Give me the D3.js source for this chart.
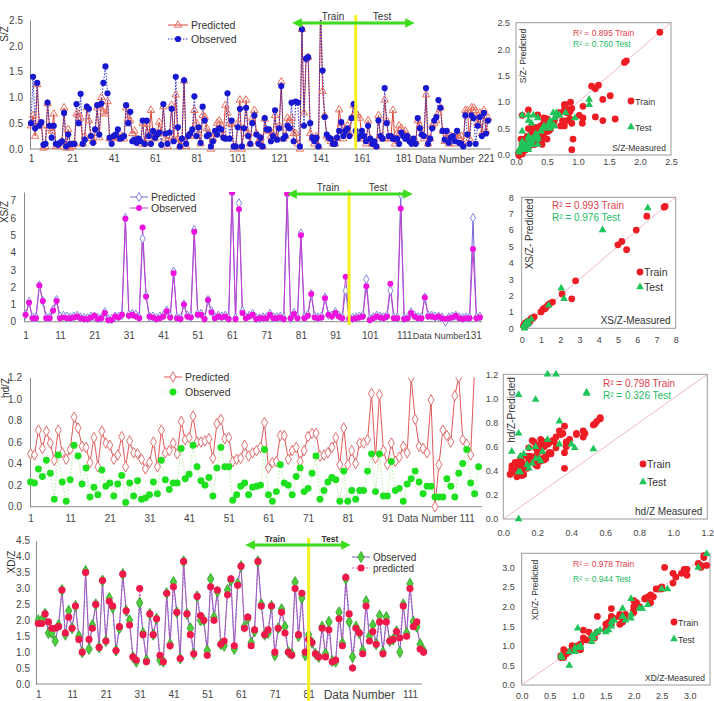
<!DOCTYPE html>
<html>
<head>
<meta charset="utf-8">
<script src="https://cdn.jsdelivr.net/npm/d3@7"></script>
<style>
  body { margin: 0; background: #fff; }
  svg { display: block; font-family: "Liberation Sans", Arial, sans-serif; }
</style>
</head>
<body>
<svg id="fig" width="714" height="701"></svg>
<script>
// ---- S/Z series ----
const sObserved = [0.5,1.4,0.4,1.28,0.45,0.52,0.08,0.1,0.9,0.45, 0.22,0.45,0.1,0.08,0.12,0.15,0.7,0.05,0.28,0.1,
  0.1,0.1,0.87,0.5,1.07,0.1,0.18,0.82,0.78,0.25, 0.12,0.38,0.85,0.28,0.88,1.28,1.6,1.08,0.22,0.1,
  0.25,0.28,0.38,0.2,0.22,0.25,0.85,0.5,0.72,0.15, 0.18,0.12,0.2,0.15,0.55,0.1,0.55,0.25,0.1,0.35,
  0.22,0.28,0.32,0.08,0.87,0.3,0.1,0.32,0.78,0.15, 1.4,0.42,0.05,0.2,1.33,0.1,0.25,0.3,0.38,1.02,
  0.25,0.42,0.12,0.82,0.55,0.25,0.28,0.05,0.15,0.35, 0.28,0.4,0.38,0.22,0.2,1.08,0.2,0.55,0.05,0.05,
  0.42,0.78,0.05,0.4,0.8,0.25,0.1,0.5,0.65,0.28, 0.1,0.22,0.05,0.6,0.38,0.38,0.15,0.25,0.75,0.18,
  0.4,1.22,0.2,0.25,0.45,0.4,0.9,0.15,0.92,0.9, 0.05,2.32,0.45,1.75,1.78,0.5,0.22,0.15,0.22,0.05,
  2.7,1.52,0.62,0.28,0.22,0.2,0.1,0.1,0.22,0.35, 0.52,0.25,0.35,0.4,0.25,0.6,0.87,0.35,0.2,0.25,
  0.35,0.25,0.15,0.45,0.2,0.1,0.15,0.05,0.55,0.25, 0.2,1.18,0.5,0.25,0.25,0.2,0.2,0.2,0.1,0.32,
  0.25,0.2,0.25,0.15,0.1,0.2,0.1,0.6,0.4,0.28, 0.25,1.18,0.1,0.2,0.4,0.55,0.62,0.95,0.8,0.35,
  0.18,0.35,0.12,0.22,0.25,0.15,0.35,0.12,0.1,0.05, 0.65,0.28,0.1,0.65,0.6,0.1,0.45,0.62,0.25,0.7,
  0.3,0.55];
const sPredicted = [0.45,0.65,0.25,1.25,0.5,0.45,0.02,0.05,0.88,0.4, 0.35,0.68,0.05,0.05,0.1,0.15,0.8,0.02,0.38,0.02,
  0.05,0.1,0.68,0.68,0.6,0.1,0.25,0.8,0.55,0.2, 0.15,0.3,0.8,0.22,1.0,0.72,0.68,0.92,0.2,0.2,
  0.25,0.22,0.25,0.2,0.25,0.2,0.8,0.58,0.55,0.3, 0.35,0.2,0.15,0.1,0.5,0.1,0.48,0.2,0.75,0.3,
  0.2,0.3,0.52,0.3,0.82,0.2,0.05,0.25,0.85,0.2, 1.05,0.2,0.05,0.15,1.32,0.05,0.25,0.25,0.3,0.75,
  0.5,0.3,0.1,0.65,0.62,0.4,0.3,0.0,0.2,0.3, 0.5,0.55,0.45,0.28,0.85,0.7,0.5,0.48,0.0,0.05,
  0.5,0.95,0.0,0.4,0.95,0.3,0.1,0.6,0.75,0.3, 0.15,0.22,0.05,0.58,0.35,0.35,0.25,0.3,0.65,0.2,
  0.45,1.3,0.2,0.25,0.6,0.55,0.6,0.3,0.3,0.1, 0.0,2.32,0.7,1.75,1.78,0.3,0.2,0.1,0.25,0.05,
  2.7,1.12,0.65,0.25,0.2,0.15,0.1,0.1,0.2,0.76, 0.5,0.2,0.35,0.45,0.3,0.6,0.85,0.7,0.65,0.6,
  0.2,0.2,0.1,0.55,0.2,0.1,0.1,0.05,0.65,0.25, 0.2,0.95,0.55,0.2,0.2,0.75,0.1,0.3,0.45,0.4,
  0.3,0.35,0.25,0.2,0.15,0.15,0.15,0.55,0.45,0.3, 0.2,1.05,0.1,0.2,0.45,0.5,0.55,0.7,0.8,0.35,
  0.15,0.3,0.1,0.25,0.2,0.1,0.3,0.2,0.25,0.1, 0.75,0.75,0.2,0.8,0.8,0.75,0.5,0.7,0.3,0.75,
  0.35,0.6];
const sTicks = [1,21,41,61,81,101,121,141,161,181,221];
const sSplit = 158;
const sR2 = ['0.895', '0.760'];

// ---- XS/Z series ----
const xsObserved = [0.4,1.1,0.2,0.2,2.1,1.2,0.2,0.2,0.65,1.2, 0.2,0.25,0.2,0.2,0.25,0.3,0.2,0.15,0.15,0.25,
  0.35,0.15,0.2,0.5,0.1,0.1,0.3,0.25,0.4,5.95, 0.35,0.4,0.3,0.2,5.45,1.45,0.3,0.25,0.15,0.2,
  0.3,0.6,0.25,2.8,0.2,0.15,1.0,0.3,0.25,5.2, 0.4,0.4,0.15,1.25,0.55,0.2,0.3,0.25,0.3,0.15,
  7.45,0.15,6.5,0.5,0.2,0.3,0.4,0.15,0.2,0.2, 0.2,0.4,0.2,0.2,0.25,0.15,7.4,0.2,0.45,0.2,
  5.0,0.2,0.35,1.6,0.25,0.2,0.25,1.35,0.4,0.3, 0.5,0.3,0.2,2.6,0.15,0.15,0.2,0.25,0.3,2.05,
  0.1,0.2,0.3,0.25,0.2,0.3,2.2,0.2,0.2,6.55, 0.15,0.2,0.5,0.3,0.2,0.2,1.4,0.3,0.3,0.25,
  0.3,0.2,0.15,0.2,0.25,0.35,0.2,0.15,0.2,0.2, 4.2,0.2,0.25];
const xsPredicted = [0.4,1.15,0.25,0.25,2.1,1.2,0.25,0.25,0.7,1.25, 0.3,0.35,0.3,0.25,0.3,0.35,0.25,0.2,0.2,0.3,
  0.3,0.2,0.2,0.55,0.15,0.15,0.3,0.3,0.4,6.0, 0.4,0.45,0.4,0.25,4.8,1.5,0.3,0.3,0.2,0.3,
  0.35,0.65,0.3,2.9,0.25,0.2,1.0,0.35,0.3,5.3, 0.45,0.45,0.2,1.25,0.6,0.25,0.35,0.3,0.35,0.2,
  7.45,0.2,6.85,0.6,0.25,0.35,0.45,0.2,0.2,0.25, 0.25,0.45,0.25,0.25,0.3,0.2,7.4,0.2,0.5,0.25,
  5.1,0.25,0.4,1.6,0.3,0.25,0.3,1.4,0.4,0.35, 0.55,0.35,0.25,1.8,0.2,0.2,0.25,0.3,0.35,2.45,
  0.15,0.25,0.35,0.3,0.25,0.35,1.8,0.25,0.25,7.35, 0.2,0.25,0.55,0.35,0.25,0.25,1.4,0.35,0.35,0.3,
  0.3,0.25,0.0,0.25,0.3,0.35,0.25,0.2,0.25,0.25, 6.0,0.25,0.3];
const xsTicks = [1,11,21,31,41,51,61,71,81,91,101,111,131];
const xsSplit = 95;
const xsR2 = ['0.993', '0.976'];

// ---- hd/Z series ----
const hdObserved = [0.23,0.22,0.35,0.28,0.43,0.31,0.07,0.48,0.23,0.05, 0.25,0.57,0.47,0.21,0.36,0.09,0.18,0.11,0.34,0.19,
  0.22,0.10,0.21,0.29,0.04,0.22,0.10,0.24,0.07,0.08, 0.11,0.23,0.12,0.43,0.25,0.16,0.22,0.22,0.54,0.26,
  0.30,0.57,0.37,0.24,0.20,0.27,0.10,0.36,0.55,0.37, 0.37,0.06,0.11,0.19,0.22,
  0.11,0.18,0.19,0.2,0.53,0.11,0.05,0.14,0.39,0.22, 0.2,0.11,0.28,0.36,0.14,0.17,0.31,0.47,0.07,0.15,
  0.23,0.27,0.25,0.05,0.33,0.05,0.15,0.07,0.15,0.15, 0.33,0.49,0.14,0.49,0.1,0.1,0.42,0.15,0.17,0.05,
  0.21,0.26,0.33,0.23,0.12,0.19,0.19,0.09,0.09,0.09, 0.26,0.19,0.09,0.31,0.4,0.53,0.22,0.12,0.37];
const hdPredicted = [0.49,0.48,0.71,0.54,0.70,0.59,0.43,0.71,0.50,0.44, 0.53,0.83,0.73,0.56,0.55,0.41,0.64,0.37,0.70,0.59,
  0.57,0.44,0.48,0.65,0.37,0.61,0.50,0.49,0.44,0.35, 0.41,0.60,0.37,0.71,0.50,0.52,0.59,0.49,0.79,0.62,
  0.64,0.84,0.60,0.60,0.61,0.63,0.45,0.77,0.81,0.63, 0.64,0.42,0.44,0.45,0.57,
  0.47,0.5,0.52,0.55,0.78, 0.36,0.41,0.42,0.66,0.66,0.44,0.52,0.55,0.42,0.52, 0.65,0.68,0.68,0.47,0.48,0.5,0.55,0.64,0.39,0.73,
  0.39,0.52,0.4,0.59,0.59,0.62,1.05,0.45,1.04,0.52, 0.39,0.59,0.42,0.46,0.56,0.5,1.2,0.81,0.56,0.54,
  0.5,0.99,0.0,0.39,0.71,0.66,0.6,1.03,1.2,0.62, 0.58,0.48,1.3,1.3];
const hdTicks = [1,11,21,31,41,51,61,71,81,91,111];
const hdSplit = 85;
const hdR2 = ['0.798', '0.326'];

// ---- XD/Z series ----
const xdObserved = [2.0,2.0,2.2,1.6,1.6,1.35,1.85,2.95,1.55,2.3, 1.75,2.45,1.5,1.0,3.55,1.1,1.85,2.5,1.15,3.25,
  1.35,2.7,2.4,1.05,1.75,3.45,2.3,2.0,0.85,0.7, 2.55,1.6,0.75,2.2,1.55,2.05,0.75,0.7,2.85,1.25,
  3.2,2.25,0.8,3.85,2.2,1.75,0.95,2.75,2.0,2.0, 1.05,3.3,2.1,2.9,1.25,1.2,2.95,3.25,1.1,3.15,
  3.7,1.8,2.05,1.3,1.65,3.85,2.5,1.55,1.6,2.45, 0.9,1.75,2.35,1.8,1.0,0.95,3.2,1.5,2.7,0.9,
  1.55,1.3,0.95,0.85,1.8,0.95,1.95,0.72,0.7,2.25, 1.28,3.3,1.95,0.85,1.8,1.6,1.05,2.6,1.5,1.85,
  1.25,2.15,1.0,2.1,1.35,1.4,1.65,1.0,2.5,1.6, 3.15,1.95,1.8,1.25,1.05];
const xdPredicted = [1.9,1.9,2.2,1.95,1.75,1.75,1.8,2.95,1.6,2.1, 1.75,2.45,1.4,1.0,3.5,1.4,1.75,2.5,1.15,3.25,
  1.35,2.6,2.45,1.05,1.8,3.45,2.3,1.85,0.85,0.75, 3.0,1.55,0.7,2.2,1.55,2.05,0.9,0.7,2.85,1.2,
  3.05,2.25,0.8,3.85,2.2,1.55,0.95,2.75,2.15,2.0, 0.9,3.05,2.0,2.95,1.25,1.35,2.8,3.3,1.2,3.1,
  3.7,1.75,2.1,1.2,1.7,3.85,2.45,1.55,1.7,2.45, 1.0,1.75,2.25,1.6,1.0,0.9,3.0,1.55,2.85,1.0,
  1.4,1.3,0.95,0.85,1.75,0.85,1.7,0.7,0.75,2.05, 1.2,3.35,2.2,0.5,1.75,1.6,0.95,2.45,1.35,1.65,
  1.25,1.95,0.95,1.95,1.35,1.4,1.65,1.45,2.45,1.5, 3.0,1.8,1.95,1.1,1.0];
const xdTicks = [1,11,21,31,41,51,61,71,81,111];
const xdSplit = 81;
const xdR2 = ['0.978', '0.944'];

const svg = d3.select('#fig');
const defs = svg.append('defs');

// arrow head for the Train/Test markers
defs.append('marker').attr('id', 'ah').attr('viewBox', '0 0 10 10')
  .attr('refX', 5).attr('refY', 5).attr('markerWidth', 3.2).attr('markerHeight', 3.2)
  .attr('orient', 'auto-start-reverse')
  .append('path').attr('d', 'M0,0L10,5L0,10z').attr('fill', '#3ddc1e');

//Draws one of the line charts on the left.
function seriesPanel(c) {
  const g = svg.append('g');
  const x = d3.scaleLinear().domain([1, c.xRef]).range([c.x1, c.x2]);
  const y = d3.scaleLinear().domain([0, c.yMax]).range([c.y0, c.yTop]);

  g.append('clipPath').attr('id', 'clip-' + c.id).append('rect')
    .attr('x', c.axisX - 6).attr('y', y(c.yMax))
    .attr('width', c.axisEnd - c.axisX + 14).attr('height', c.y0 - y(c.yMax) + 12);

  //y axis
  const ya = g.append('g').attr('transform', `translate(${c.axisX},0)`)
    .call(d3.axisLeft(y).tickValues(c.yTicks).tickSize(0).tickPadding(c.yPad));
  ya.select('.domain').attr('stroke', '#8a8a8a');
  ya.selectAll('text').attr('font-size', 10).attr('fill', '#444');

  //x axis, the line is drawn by hand so it can run past the last tick
  g.append('line').attr('x1', c.axisX).attr('x2', c.axisEnd)
    .attr('y1', c.y0).attr('y2', c.y0).attr('stroke', '#8a8a8a');
  const xa = g.append('g').attr('transform', `translate(0,${c.y0})`)
    .call(d3.axisBottom(x).tickValues(c.xTicks).tickSize(0).tickPadding(c.xPad));
  xa.select('.domain').remove();
  xa.selectAll('text').attr('font-size', 10).attr('fill', '#444');
  g.append('text').attr('x', x(c.dnAt)).attr('y', c.y0 + c.xPad + 7.5)
    .attr('text-anchor', 'middle').attr('font-size', c.dnSize).attr('fill', '#444').text('Data Number');

  g.append('text').attr('transform', `translate(${c.titleX},${c.titleY}) rotate(-90)`)
    .attr('text-anchor', 'middle').attr('font-size', 10).attr('fill', '#333').text(c.title);

  const plot = g.append('g').attr('clip-path', `url(#clip-${c.id})`);
  c.series.forEach(s => {
    plot.append('path').datum(s.values)
      .attr('d', d3.line().x((d, i) => x(i + 1)).y(d => y(d)))
      .attr('fill', 'none').attr('stroke', s.line).attr('stroke-width', s.lw)
      .attr('stroke-dasharray', s.dash || null);
  });
  c.series.forEach(s => {
    plot.append('g').selectAll('path')
      .data(s.values.map((v, i) => [i + 1, v]).filter(d => d[1] <= c.yMax))
      .join('path')
      .attr('transform', d => `translate(${x(d[0])},${y(d[1])})`)
      .attr('d', d3.symbol(s.symbol, s.size))
      .attr('fill', s.fill).attr('stroke', s.stroke).attr('stroke-width', s.sw || 1);
  });

  //legend
  c.series.forEach((s, k) => {
    const ly = c.legY[k];
    g.append('line').attr('x1', c.legX).attr('x2', c.legX + c.legW).attr('y1', ly).attr('y2', ly)
      .attr('stroke', s.line).attr('stroke-width', s.lw).attr('stroke-dasharray', s.dash || null);
    g.append('path').attr('transform', `translate(${c.legX + c.legW / 2},${ly})`)
      .attr('d', d3.symbol(s.symbol, s.size))
      .attr('fill', s.fill).attr('stroke', s.stroke).attr('stroke-width', s.sw || 1);
    g.append('text').attr('x', c.legX + c.legW + 3).attr('y', ly + 3.5)
      .attr('font-size', c.legFs).attr('fill', '#333').text(s.name);
  });

  //train / test split marker
  if (c.split) {
    const sx = x(c.split);
    g.append('line').attr('x1', sx).attr('x2', sx).attr('y1', c.yl1).attr('y2', c.yl2)
      .attr('stroke', '#f5f01e').attr('stroke-width', 3);
    g.append('line').attr('x1', c.arrow[0]).attr('x2', c.arrow[1]).attr('y1', c.arrowY).attr('y2', c.arrowY)
      .attr('stroke', '#3ddc1e').attr('stroke-width', 3)
      .attr('marker-start', 'url(#ah)').attr('marker-end', 'url(#ah)');
    g.append('text').attr('x', c.trainX).attr('y', c.arrowY - 3).attr('text-anchor', 'middle')
      .attr('font-size', c.ttFs).attr('font-weight', c.ttBold ? 'bold' : null).attr('fill', '#333').text('Train');
    g.append('text').attr('x', c.testX).attr('y', c.arrowY - 3).attr('text-anchor', 'middle')
      .attr('font-size', c.ttFs).attr('font-weight', c.ttBold ? 'bold' : null).attr('fill', '#333').text('Test');
  }
}

//Draws one of the measured / predicted scatter plots on the right.
function scatterPanel(c) {
  const g = svg.append('g');
  const x = d3.scaleLinear().domain([0, c.max]).range([c.left, c.right]);
  const y = d3.scaleLinear().domain([0, c.max]).range([c.bottom, c.top]);

  g.append('rect').attr('x', c.left).attr('y', c.top)
    .attr('width', c.right - c.left).attr('height', c.bottom - c.top)
    .attr('fill', 'none').attr('stroke', '#9a9a9a');

  const ya = g.append('g').attr('transform', `translate(${c.left},0)`)
    .call(d3.axisLeft(y).tickValues(c.ticks).tickSize(0).tickPadding(c.yPad));
  ya.select('.domain').remove();
  ya.selectAll('text').attr('font-size', 9).attr('fill', '#444');
  const xa = g.append('g').attr('transform', `translate(0,${c.bottom})`)
    .call(d3.axisBottom(x).tickValues(c.ticks).tickSize(0).tickPadding(c.xPad));
  xa.select('.domain').remove();
  xa.selectAll('text').attr('font-size', 9).attr('fill', '#444');

  g.append('line').attr('x1', x(0)).attr('y1', y(0)).attr('x2', x(c.max)).attr('y2', y(c.max))
    .attr('stroke', '#eaa4b8').attr('stroke-width', 0.8);

  const pts = c.measured.map((m, i) => ({m: m, p: c.predicted[i], test: i + 1 >= c.split}))
    .filter(d => d.m <= c.max && d.p <= c.max);
  g.append('g').selectAll('circle').data(pts.filter(d => !d.test)).join('circle')
    .attr('cx', d => x(d.m)).attr('cy', d => y(d.p)).attr('r', 3.4).attr('fill', '#ee1c24');
  g.append('g').selectAll('path').data(pts.filter(d => d.test)).join('path')
    .attr('transform', d => `translate(${x(d.m)},${y(d.p)})`)
    .attr('d', d3.symbol(d3.symbolTriangle, 26)).attr('fill', '#1fc45a');

  g.append('text').attr('x', c.r2X).attr('y', c.r2Y).attr('font-size', c.fs).attr('fill', '#e2404a')
    .text(`R² = ${c.r2[0]} Train`);
  g.append('text').attr('x', c.r2X).attr('y', c.r2Y + c.r2Gap).attr('font-size', c.fs).attr('fill', '#1ebb66')
    .text(`R² = ${c.r2[1]} Test`);
  g.append('text').attr('transform', `translate(${c.ylX},${c.ylY}) rotate(-90)`)
    .attr('text-anchor', 'middle').attr('font-size', c.fs).attr('fill', '#333').text(c.yLabel);
  g.append('text').attr('x', c.right - 5).attr('y', c.bottom - 4).attr('text-anchor', 'end')
    .attr('font-size', c.fs).attr('fill', '#333').text(c.xLabel);

  g.append('circle').attr('cx', c.legX).attr('cy', c.legY).attr('r', 3.4).attr('fill', '#ee1c24');
  g.append('text').attr('x', c.legX + 4).attr('y', c.legY + 3.5).attr('font-size', c.legFs).attr('fill', '#333').text('Train');
  g.append('path').attr('transform', `translate(${c.legX},${c.legY + c.legGap})`)
    .attr('d', d3.symbol(d3.symbolTriangle, 26)).attr('fill', '#1fc45a');
  g.append('text').attr('x', c.legX + 4).attr('y', c.legY + c.legGap + 3.5).attr('font-size', c.legFs).attr('fill', '#333').text('Test');
}

// ---- left column ----
seriesPanel({
  id: 's', xRef: 221, x1: 31, x2: 486, axisX: 30, axisEnd: 491,
  yMax: 2.5, y0: 149, yTop: 20, yTicks: [0, 0.5, 1, 1.5, 2, 2.5], yPad: 7,
  xTicks: sTicks, xPad: 6, dnAt: 201, dnSize: 10,
  title: 'S/Z', titleX: 8, titleY: 34,
  series: [
    {name: 'Predicted', values: sPredicted, line: '#d8463c', lw: 1, symbol: d3.symbolTriangle, size: 24, fill: 'none', stroke: '#e8705e'},
    {name: 'Observed', values: sObserved, line: '#2a2ac8', lw: 1, dash: '1.5,1.5', symbol: d3.symbolCircle, size: 30, fill: '#1818d0', stroke: 'none'}
  ],
  legX: 168, legW: 20, legY: [25, 39], legFs: 10.5,
  split: sSplit, yl1: 15, yl2: 149, arrow: [297, 410], arrowY: 23,
  trainX: 333, testX: 382, ttFs: 10
});

seriesPanel({
  id: 'xs', xRef: 131, x1: 25.6, x2: 473, axisX: 24, axisEnd: 482,
  yMax: 7.5, y0: 321.7, yTop: 192, yTicks: [0, 1, 2, 3, 4, 5, 6, 7], yPad: 8,
  xTicks: xsTicks, xPad: 10, dnAt: 121.3, dnSize: 9,
  title: 'XS/Z', titleX: 8, titleY: 212,
  series: [
    {name: 'Predicted', values: xsPredicted, line: '#7668d8', lw: 1, symbol: d3.symbolDiamond, size: 24, fill: '#fff', stroke: '#7f86e0'},
    {name: 'Observed', values: xsObserved, line: '#c23fd0', lw: 1, symbol: d3.symbolCircle, size: 28, fill: '#f011dc', stroke: 'none'}
  ],
  legX: 130, legW: 18, legY: [197, 208], legFs: 10.5,
  split: xsSplit, yl1: 190, yl2: 325, arrow: [292, 408], arrowY: 194,
  trainX: 328, testX: 378, ttFs: 10
});

seriesPanel({
  id: 'hd', xRef: 111, x1: 30.5, x2: 466.7, axisX: 30, axisEnd: 482,
  yMax: 1.2, y0: 506.7, yTop: 377.3, yTicks: [0, 0.2, 0.4, 0.6, 0.8, 1, 1.2], yPad: 8,
  xTicks: hdTicks, xPad: 8, dnAt: 101, dnSize: 10,
  title: 'hd/Z', titleX: 9, titleY: 388,
  series: [
    {name: 'Predicted', values: hdPredicted, line: '#e05858', lw: 1, symbol: d3.symbolDiamond, size: 32, fill: '#fff', stroke: '#e27070'},
    {name: 'Observed', values: hdObserved, line: '#c4efb4', lw: 1, dash: '2,1.5', symbol: d3.symbolCircle, size: 38, fill: '#1fe01f', stroke: 'none'}
  ],
  legX: 164, legW: 18, legY: [377, 392], legFs: 10.5
});

seriesPanel({
  id: 'xd', xRef: 111, x1: 38.3, x2: 410, axisX: 36, axisEnd: 422,
  yMax: 4.5, y0: 684, yTop: 540.7, yTicks: d3.range(0, 4.51, 0.5), yPad: 6,
  xTicks: xdTicks, xPad: 7, dnAt: 96, dnSize: 12,
  title: 'XD/Z', titleX: 15, titleY: 562,
  series: [
    {name: 'Observed', values: xdObserved, line: '#7a5cc4', lw: 1, symbol: d3.symbolDiamond, size: 36, fill: '#4fce3c', stroke: '#2c9c2c', sw: 0.8},
    {name: 'predicted', values: xdPredicted, line: '#c05ab8', lw: 1, dash: '2,1.5', symbol: d3.symbolCircle, size: 40, fill: '#f0184a', stroke: 'none'}
  ],
  legX: 352, legW: 18, legY: [557, 568], legFs: 10,
  split: xdSplit, yl1: 538, yl2: 701, arrow: [250, 346], arrowY: 545,
  trainX: 275, testX: 330, ttFs: 8.5, ttBold: true
});

// ---- right column ----
scatterPanel({
  measured: sObserved, predicted: sPredicted, split: sSplit, max: 2.5,
  left: 516, right: 671, top: 22.7, bottom: 155, ticks: [0, 0.5, 1, 1.5, 2, 2.5], yPad: 6, xPad: 4,
  r2: sR2, r2X: 573, r2Y: 36, r2Gap: 11, fs: 8.5,
  yLabel: 'S/Z- Predicted', ylX: 526, ylY: 56, xLabel: 'S/Z-Measured',
  legX: 631, legY: 101, legGap: 26, legFs: 9
});

scatterPanel({
  measured: xsObserved, predicted: xsPredicted, split: xsSplit, max: 8,
  left: 521.7, right: 675.7, top: 197.3, bottom: 328.3, ticks: d3.range(0, 9), yPad: 8, xPad: 8,
  r2: xsR2, r2X: 552, r2Y: 209, r2Gap: 12, fs: 10,
  yLabel: 'XS/Z- Predicted', ylX: 533, ylY: 234, xLabel: 'XS/Z-Measured',
  legX: 640, legY: 272, legGap: 15, legFs: 10.5
});

scatterPanel({
  measured: hdObserved, predicted: hdPredicted, split: hdSplit, max: 1.2,
  left: 503.3, right: 707.3, top: 374.3, bottom: 519, ticks: [0, 0.2, 0.4, 0.6, 0.8, 1, 1.2], yPad: 5, xPad: 11,
  r2: hdR2, r2X: 603, r2Y: 387, r2Gap: 12, fs: 10,
  yLabel: 'hd/Z-Predicted', ylX: 515, ylY: 410, xLabel: 'hd/Z  Measured',
  legX: 643, legY: 464, legGap: 18, legFs: 10.5
});

scatterPanel({
  measured: xdObserved, predicted: xdPredicted, split: xdSplit, max: 3.36,
  left: 521.7, right: 710, top: 553.3, bottom: 685, ticks: [0, 0.5, 1, 1.5, 2, 2.5, 3], yPad: 7, xPad: 8,
  r2: xdR2, r2X: 573, r2Y: 567, r2Gap: 15, fs: 8.5,
  yLabel: 'XD/Z- Predicted', ylX: 538, ylY: 590, xLabel: 'XD/Z-Measured',
  legX: 674, legY: 622, legGap: 17, legFs: 9
});
</script>
</body>
</html>
